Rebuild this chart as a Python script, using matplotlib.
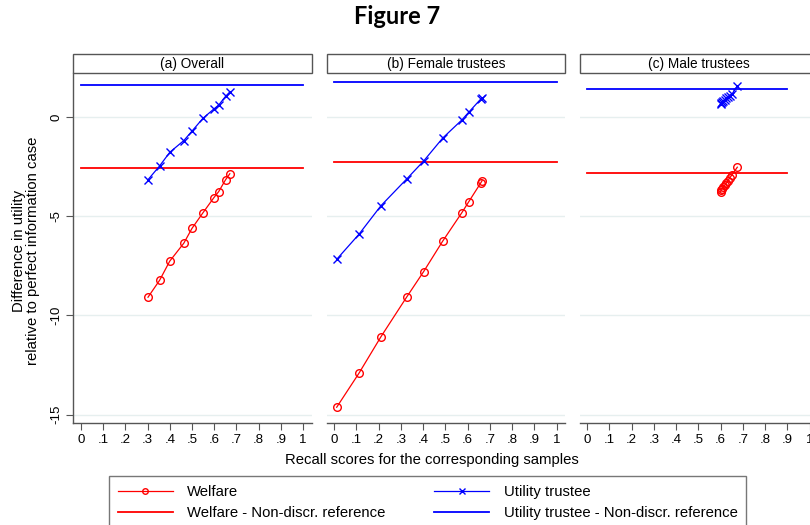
import matplotlib
matplotlib.use("Agg")
import matplotlib.pyplot as plt
from matplotlib.lines import Line2D
from matplotlib.patches import Rectangle

plt.rcParams['font.family'] = ['Liberation Sans', 'DejaVu Sans']

# ---- data -------------------------------------------------------------
panel_titles = ["(a) Overall", "(b) Female trustees", "(c) Male trustees"]

recall_overall = [0.302, 0.354, 0.400, 0.463, 0.500, 0.549, 0.598, 0.620, 0.651, 0.670]
welfare_overall = [-9.08, -8.23, -7.26, -6.36, -5.61, -4.83, -4.07, -3.76, -3.16, -2.86]
utility_overall = [-3.16, -2.47, -1.78, -1.19, -0.71, -0.07, 0.40, 0.60, 1.04, 1.26]
welfare_ref_overall = -2.55
utility_ref_overall = 1.61

recall_female = [0.011, 0.111, 0.210, 0.327, 0.402, 0.488, 0.574, 0.605, 0.658, 0.665]
welfare_female = [-14.62, -12.91, -11.07, -9.05, -7.79, -6.25, -4.82, -4.27, -3.34, -3.21]
utility_female = [-7.17, -5.91, -4.47, -3.11, -2.22, -1.06, -0.15, 0.24, 0.89, 0.94]
welfare_ref_female = -2.28
utility_ref_female = 1.75

recall_male = [0.600, 0.603, 0.607, 0.612, 0.618, 0.625, 0.632, 0.642, 0.652, 0.675]
welfare_male = [-3.76, -3.70, -3.62, -3.55, -3.45, -3.35, -3.22, -3.05, -2.90, -2.53]
utility_male = [0.64, 0.70, 0.76, 0.82, 0.88, 0.94, 1.00, 1.08, 1.17, 1.56]
welfare_ref_male = -2.82
utility_ref_male = 1.43

ref_span = [(0.0, 1.0), (0.0, 1.0), (0.0, 0.9)]

x_ticks = [0, .1, .2, .3, .4, .5, .6, .7, .8, .9, 1]
x_ticklabels = ["0", ".1", ".2", ".3", ".4", ".5", ".6", ".7", ".8", ".9", "1"]
y_ticks = [0, -5, -10, -15]
y_ticklabels = ["0", "-5", "-10", "-15"]

legend_labels = ["Welfare", "Welfare - Non-discr. reference",
                 "Utility trustee", "Utility trustee - Non-discr. reference"]

panels = [
    (recall_overall, welfare_overall, utility_overall, welfare_ref_overall, utility_ref_overall),
    (recall_female, welfare_female, utility_female, welfare_ref_female, utility_ref_female),
    (recall_male, welfare_male, utility_male, welfare_ref_male, utility_ref_male),
]

# ---- layout (pixels) ---------------------------------------------------
W, H = 810, 525
fig = plt.figure(figsize=(W / 100, H / 100), dpi=100)
fig.patch.set_facecolor("white")

RED = "#ff0000"
BLUE = "#0000ff"
GRID = "#e6efef"
SPINE = "#555555"

panel_left = [73.3, 326.7, 579.7]
panel_w = 238.3
plot_top, plot_bottom = 73.3, 422.7
box_top = 54.3


def fig_rect(l, t, w, h):
    return [l / W, 1 - (t + h) / H, w / W, h / H]


for i, (x, wel, uti, wref, uref) in enumerate(panels):
    ax = fig.add_axes(fig_rect(panel_left[i], plot_top, panel_w, plot_bottom - plot_top))
    ax.set_xlim(-0.034, 1.038)
    ax.set_ylim(-15.40, 2.20)

    for yt in y_ticks:
        ax.axhline(yt, color=GRID, lw=1.0, zorder=0)

    x0, x1 = ref_span[i]
    ax.plot([x0, x1], [uref, uref], color=BLUE, lw=1.3, zorder=2)
    ax.plot([x0, x1], [wref, wref], color=RED, lw=1.3, zorder=2)
    ax.plot(x, uti, color=BLUE, lw=0.9, marker="x", ms=5.5, mew=1.0, zorder=3)
    ax.plot(x, wel, color=RED, lw=0.9, marker="o", ms=5.5, mfc="none", mew=1.0, zorder=3)

    for s in ["top", "right"]:
        ax.spines[s].set_visible(False)
    ax.spines["bottom"].set_color(SPINE)
    ax.spines["bottom"].set_linewidth(1.0)

    ax.set_xticks(x_ticks)
    ax.set_xticklabels(x_ticklabels)
    ax.tick_params(axis="x", length=5, width=0.8, color=SPINE, labelsize=9.5, pad=3)

    if i == 0:
        ax.spines["left"].set_color(SPINE)
        ax.spines["left"].set_linewidth(1.0)
        ax.set_yticks(y_ticks)
        ax.set_yticklabels(y_ticklabels, rotation=90, va="center")
        ax.tick_params(axis="y", length=5, width=0.8, color=SPINE, labelsize=9.5, pad=3)
    else:
        ax.spines["left"].set_visible(False)
        ax.set_yticks([])

    # panel header box
    bl, bb, bw, bh = fig_rect(panel_left[i], box_top, panel_w, plot_top - box_top)
    fig.patches.append(Rectangle((bl, bb), bw, bh, transform=fig.transFigure,
                                 facecolor="white", edgecolor=SPINE, lw=1.0))
    fig.text(bl + bw / 2, bb + bh / 2, panel_titles[i], ha="center", va="center",
             fontsize=9.8)

# ---- titles and labels -------------------------------------------------
fig.text(397 / W, 1 - 16 / H, "Figure 7", ha="center", va="center",
         fontsize=17, fontweight="bold", family=["Lato", "DejaVu Sans"])

fig.text(26.5 / W, 1 - 251 / H, "Difference in utility\nrelative to perfect information case",
         ha="center", va="center", rotation=90, fontsize=10.7, linespacing=1.0)

fig.text(432 / W, 1 - 460 / H, "Recall scores for the corresponding samples",
         ha="center", va="center", fontsize=10.7)

handles = [
    Line2D([], [], color=RED, lw=0.9, marker="o", ms=4, mfc="none", mew=1.0),
    Line2D([], [], color=RED, lw=1.3),
    Line2D([], [], color=BLUE, lw=0.9, marker="x", ms=4, mew=1.0),
    Line2D([], [], color=BLUE, lw=1.3),
]
leg = fig.legend(handles, legend_labels, ncol=2, loc="upper left",
                 bbox_to_anchor=(109 / W, 1 - 476 / H), fontsize=10.7,
                 frameon=True, fancybox=False, edgecolor=SPINE, numpoints=1,
                 handlelength=3.7, handletextpad=0.95, columnspacing=3.3,
                 labelspacing=0.5, borderpad=0.6, borderaxespad=0)
leg.get_frame().set_linewidth(1.0)

fig.savefig("out.png", dpi=100)
